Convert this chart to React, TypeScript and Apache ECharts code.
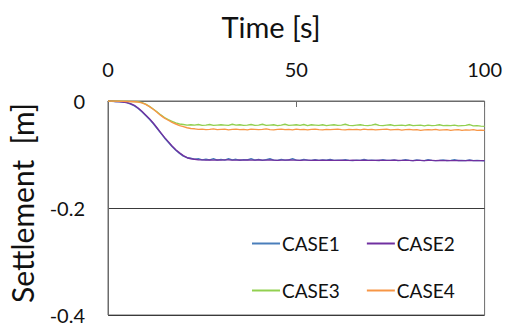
import React, { useEffect, useRef } from "react";
import * as echarts from "echarts";

const time = [
  0, 1, 2, 3, 4, 5, 6, 7, 8, 9,
  10, 11, 12, 13, 14, 15, 16, 17, 18, 19,
  20, 21, 22, 23, 24, 25, 26, 27, 28, 29,
  30, 31, 32, 33, 34, 35, 36, 37, 38, 39,
  40, 41, 42, 43, 44, 45, 46, 47, 48, 49,
  50, 51, 52, 53, 54, 55, 56, 57, 58, 59,
  60, 61, 62, 63, 64, 65, 66, 67, 68, 69,
  70, 71, 72, 73, 74, 75, 76, 77, 78, 79,
  80, 81, 82, 83, 84, 85, 86, 87, 88, 89,
  90, 91, 92, 93, 94, 95, 96, 97, 98, 99, 100,
];

const case1 = [
  0, -0.0005, -0.001, -0.0015, -0.002, -0.003, -0.006, -0.009, -0.014, -0.02,
  -0.027, -0.034, -0.042, -0.051, -0.06, -0.069, -0.077, -0.085, -0.092, -0.098,
  -0.103, -0.106, -0.107, -0.109, -0.108, -0.11, -0.109, -0.11, -0.108, -0.1105,
  -0.109, -0.1105, -0.108, -0.11, -0.109, -0.111, -0.1095, -0.11, -0.108, -0.1105,
  -0.109, -0.111, -0.1095, -0.108, -0.1105, -0.111, -0.109, -0.1105, -0.11, -0.108,
  -0.1105, -0.111, -0.109, -0.1105, -0.111, -0.1095, -0.111, -0.11, -0.1105, -0.109,
  -0.111, -0.1105, -0.111, -0.1095, -0.111, -0.1115, -0.1105, -0.111, -0.109, -0.111,
  -0.1105, -0.111, -0.1115, -0.1095, -0.111, -0.111, -0.11, -0.1115, -0.111, -0.1095,
  -0.111, -0.1115, -0.11, -0.111, -0.1115, -0.1095, -0.111, -0.1115, -0.111, -0.11,
  -0.1115, -0.111, -0.1095, -0.1115, -0.111, -0.1115, -0.11, -0.1115, -0.111, -0.1115, -0.112,
];

const case2 = [
  0, 0, -0.001, -0.001, -0.002, -0.003, -0.005, -0.008, -0.013, -0.019,
  -0.026, -0.033, -0.041, -0.05, -0.059, -0.068, -0.076, -0.084, -0.091, -0.097,
  -0.102, -0.106, -0.108, -0.109, -0.11, -0.11, -0.1105, -0.11, -0.1105, -0.11,
  -0.1105, -0.11, -0.11, -0.1105, -0.1105, -0.11, -0.1105, -0.11, -0.1105, -0.1105,
  -0.11, -0.1105, -0.1105, -0.11, -0.1105, -0.111, -0.1105, -0.1105, -0.11, -0.1105,
  -0.1105, -0.111, -0.1105, -0.1105, -0.111, -0.1105, -0.111, -0.1105, -0.111, -0.1105,
  -0.111, -0.111, -0.1105, -0.111, -0.111, -0.1105, -0.111, -0.111, -0.1105, -0.111,
  -0.111, -0.111, -0.1105, -0.111, -0.111, -0.111, -0.1105, -0.111, -0.111, -0.111,
  -0.111, -0.1115, -0.111, -0.111, -0.1115, -0.111, -0.111, -0.1115, -0.111, -0.1115,
  -0.111, -0.1115, -0.1115, -0.111, -0.1115, -0.1115, -0.111, -0.1115, -0.1115, -0.1115, -0.1115,
];

const case3 = [
  0, 0, 0, 0, -0.0005, -0.0005, -0.001, -0.001, -0.0015, -0.003,
  -0.006, -0.01, -0.015, -0.02, -0.026, -0.031, -0.035, -0.038, -0.041, -0.043,
  -0.044, -0.045, -0.0445, -0.045, -0.044, -0.0455, -0.045, -0.044, -0.0455, -0.045,
  -0.0445, -0.045, -0.0455, -0.0435, -0.045, -0.0445, -0.0455, -0.045, -0.044, -0.0455,
  -0.045, -0.0435, -0.0455, -0.045, -0.0445, -0.046, -0.045, -0.0435, -0.0455, -0.045,
  -0.0445, -0.0455, -0.044, -0.046, -0.0445, -0.045, -0.0455, -0.0445, -0.046, -0.045,
  -0.0445, -0.0455, -0.045, -0.0435, -0.0455, -0.046, -0.045, -0.0445, -0.0455, -0.046,
  -0.045, -0.0435, -0.0455, -0.046, -0.045, -0.0445, -0.046, -0.0455, -0.045, -0.046,
  -0.0445, -0.046, -0.0455, -0.045, -0.0465, -0.045, -0.046, -0.0455, -0.0445, -0.046,
  -0.0455, -0.046, -0.045, -0.0465, -0.046, -0.0455, -0.044, -0.0465, -0.046, -0.047, -0.0475,
];

const case4 = [
  0, 0, 0, -0.0005, -0.0005, -0.001, -0.001, -0.0015, -0.002, -0.0035,
  -0.0065, -0.0105, -0.0155, -0.021, -0.027, -0.032, -0.036, -0.04, -0.043, -0.046,
  -0.048, -0.05, -0.0515, -0.052, -0.053, -0.0525, -0.0535, -0.053, -0.052, -0.0535,
  -0.053, -0.0525, -0.054, -0.053, -0.0525, -0.0535, -0.053, -0.054, -0.0525, -0.053,
  -0.0535, -0.053, -0.052, -0.0535, -0.054, -0.053, -0.0525, -0.0535, -0.053, -0.054,
  -0.0525, -0.0535, -0.053, -0.054, -0.053, -0.0525, -0.0535, -0.054, -0.053, -0.0535,
  -0.053, -0.0525, -0.0535, -0.054, -0.053, -0.0535, -0.053, -0.054, -0.0525, -0.0535,
  -0.053, -0.054, -0.0535, -0.053, -0.0525, -0.054, -0.0535, -0.053, -0.0545, -0.0535,
  -0.053, -0.054, -0.0535, -0.055, -0.054, -0.0535, -0.054, -0.053, -0.0545, -0.054,
  -0.0535, -0.055, -0.054, -0.0535, -0.055, -0.054, -0.0545, -0.0535, -0.055, -0.0545, -0.055,
];

const seriesNames = ["CASE1", "CASE2", "CASE3", "CASE4"];
const seriesValues = [case1, case2, case3, case4];
const seriesColors = ["#4A7EBB", "#7030A0", "#92D050", "#F79646"];

const xTitle = "Time [s]";
const yTitle = "Settlement  [m]";

const FONT = "Lato";
const LINE = "#6b6b6b";

export default function App() {
  const ref = useRef<HTMLDivElement>(null);
  useEffect(() => {
    if (!ref.current) return;
    const chart = echarts.init(ref.current, null, { renderer: "svg" });
    const legendCommon = {
      left: 252,
      padding: 0,
      icon: "rect",
      itemWidth: 28,
      itemHeight: 2,
      itemGap: 27,
      textStyle: { fontFamily: FONT, fontSize: 19, color: "#111", padding: [0, 0, 0, -3] },
    };
    chart.setOption({
      animation: false,
      backgroundColor: "#fff",
      textStyle: { fontFamily: FONT },
      grid: {
        left: 108,
        right: 18,
        top: 101,
        bottom: 11,
        show: true,
        borderColor: LINE,
        borderWidth: 1,
        backgroundColor: "transparent",
      },
      graphic: [
        {
          type: "text",
          x: 271,
          y: 26,
          style: {
            text: xTitle,
            fontFamily: FONT,
            fontSize: 29,
            fill: "#111",
            textAlign: "center",
            textVerticalAlign: "middle",
          },
        },
        {
          type: "text",
          x: 22,
          y: 203,
          rotation: Math.PI / 2,
          style: {
            text: yTitle,
            fontFamily: FONT,
            fontSize: 30,
            fill: "#111",
            textAlign: "center",
            textVerticalAlign: "middle",
          },
        },
      ],
      legend: [
        { ...legendCommon, top: 234, data: [seriesNames[0], seriesNames[1]] },
        { ...legendCommon, top: 281, data: [seriesNames[2], seriesNames[3]] },
      ],
      xAxis: {
        type: "value",
        position: "top",
        min: 0,
        max: 100,
        interval: 50,
        axisLine: { show: true, lineStyle: { color: LINE, width: 1 } },
        axisTick: { show: true, inside: true, length: 6, lineStyle: { color: LINE } },
        axisLabel: { fontFamily: FONT, fontSize: 20, color: "#111", margin: 22 },
        splitLine: { show: false },
      },
      yAxis: {
        type: "value",
        min: -0.4,
        max: 0,
        interval: 0.2,
        axisLine: { show: true, lineStyle: { color: LINE, width: 1 } },
        axisTick: { show: false },
        axisLabel: { fontFamily: FONT, fontSize: 20, color: "#111", margin: 23 },
        splitLine: { show: true, lineStyle: { color: "#3a3a3a", width: 1 } },
      },
      series: seriesNames.map((name, i) => ({
        name,
        type: "line",
        showSymbol: false,
        symbol: "none",
        color: seriesColors[i],
        lineStyle: { width: 1.4, color: seriesColors[i] },
        data: time.map((t, j) => [t, seriesValues[i][j]]),
      })),
    });
    return () => chart.dispose();
  }, []);
  return (
    <div
      ref={ref}
      style={{ position: "fixed", left: 0, top: 0, width: 505, height: 326 }}
    />
  );
}
